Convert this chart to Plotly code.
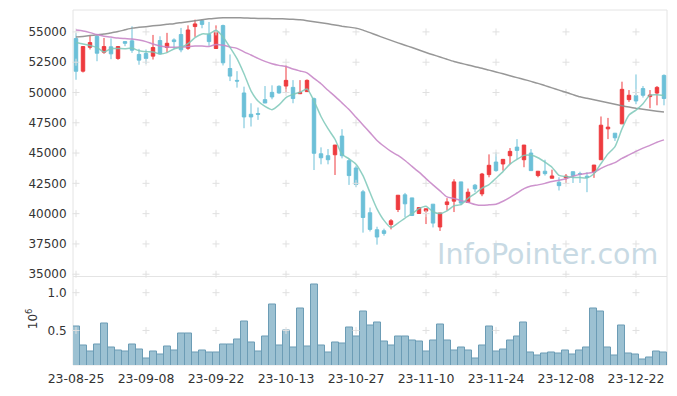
import pandas as pd
import plotly.graph_objects as go

# ---------------- data ----------------
holidays = ["2023-09-28", "2023-09-29", "2023-10-02", "2023-10-03", "2023-10-09", "2023-12-25"]
dates = [d for d in pd.bdate_range("2023-08-25", "2023-12-29") if d.strftime("%Y-%m-%d") not in holidays]
date_labels = [d.strftime("%y-%m-%d") for d in dates]

tick_labels = ["23-08-25", "23-09-08", "23-09-22", "23-10-13", "23-10-27",
               "23-11-10", "23-11-24", "23-12-08", "23-12-22"]

opens = [54450, 51760, 53730, 54640, 53320, 53770, 52810, 54200, 54260, 53140,
         53220, 53000, 54290, 53710, 54340, 54780, 53650, 55440, 55930, 54780,
         53630, 55520, 51980, 51000, 49960, 48200, 48260, 49410, 50010, 50510,
         50530, 50420, 49900, 50070, 49490, 44940, 44780, 44860, 46400, 44370,
         43770, 41800, 40070, 38670, 38590, 39110, 40340, 41550, 41300, 40010,
         40210, 40780, 38900, 40750, 41030, 42620, 40920, 42350, 41630, 43220,
         44260, 44100, 44780, 45490, 44450, 45000, 43140, 43500, 42920, 42590,
         42950, 43460, 43300, 43090, 43410, 44450, 47000, 46640, 47410, 49410,
         49740, 50320, 49660, 49950, 51410]
highs = [54900, 53800, 54700, 54750, 54500, 54470, 53800, 54210, 55460, 53600,
         53550, 54750, 54640, 54920, 54470, 55330, 55540, 56010, 56010, 55820,
         55540, 55600, 53140, 51760, 50480, 49110, 48760, 50530, 50590, 50590,
         52230, 51020, 51020, 51080, 49580, 45470, 45330, 45660, 46970, 44560,
         43960, 41960, 40500, 38920, 38760, 39550, 41520, 41710, 41300, 40500,
         40400, 40780, 40050, 41280, 42840, 42620, 42070, 42450, 43360, 44890,
         45060, 44510, 45410, 46150, 45660, 45330, 43500, 44450, 43630, 43000,
         43270, 43460, 43460, 43410, 44010, 48020, 47900, 46640, 50890, 50200,
         51490, 50530, 50200, 50530, 51490]
lows = [51050, 51650, 53550, 52580, 53190, 52750, 52700, 53820, 53270, 52290,
        52370, 52720, 53140, 53300, 53600, 53320, 53520, 54590, 55300, 53850,
        53600, 52230, 50940, 50400, 47050, 47190, 47740, 49130, 49440, 49900,
        49990, 49110, 49870, 50070, 43600, 44070, 44070, 43190, 44560, 42370,
        42180, 38430, 38530, 37440, 38180, 38700, 40130, 39720, 39800, 39980,
        39140, 38860, 38570, 40260, 40130, 40700, 40870, 41770, 41440, 43000,
        43460, 43550, 44070, 44510, 43830, 43550, 43000, 43140, 42920, 41910,
        42530, 42530, 42530, 41770, 42950, 44450, 46150, 46000, 47410, 49220,
        49030, 49580, 48700, 48940, 48940]
closes = [51750, 53790, 54120, 53240, 53790, 53190, 53790, 54060, 53490, 52670,
          52810, 53710, 53190, 54060, 54200, 53520, 55160, 55660, 55620, 54200,
          55000, 52450, 51350, 50940, 47980, 47980, 48200, 49130, 49630, 49960,
          51000, 49500, 50010, 51000, 44980, 44610, 44450, 45660, 44780, 43140,
          42400, 39680, 38700, 38070, 38370, 39410, 41520, 40810, 39850, 40500,
          40400, 39220, 40050, 40970, 42620, 40870, 41770, 42040, 43270, 43990,
          43550, 44480, 45140, 45220, 45660, 43550, 43500, 43300, 43110, 42310,
          43090, 43140, 43250, 42970, 44010, 47300, 47140, 46260, 50260, 49770,
          49300, 49770, 49790, 50420, 49500]

volume_millions = [0.553, 0.303, 0.224, 0.316, 0.592, 0.276, 0.237, 0.224, 0.316, 0.250,
                   0.132, 0.224, 0.184, 0.289, 0.237, 0.461, 0.461, 0.211, 0.237, 0.211,
                   0.211, 0.316, 0.316, 0.382, 0.618, 0.342, 0.224, 0.421, 0.842, 0.303,
                   0.500, 0.276, 0.789, 0.289, 1.105, 0.303, 0.211, 0.344, 0.329, 0.539,
                   0.421, 0.750, 0.566, 0.605, 0.355, 0.303, 0.421, 0.421, 0.368, 0.355,
                   0.224, 0.368, 0.579, 0.368, 0.237, 0.276, 0.237, 0.132, 0.303, 0.553,
                   0.224, 0.250, 0.368, 0.421, 0.605, 0.211, 0.171, 0.197, 0.211, 0.197,
                   0.237, 0.184, 0.237, 0.276, 0.789, 0.750, 0.276, 0.171, 0.566, 0.197,
                   0.184, 0.118, 0.145, 0.224, 0.211]

# moving-average values before the window is complete
ma5_head = [54100, 54010, 53870, 53710]
ma20_head = [55150, 55070, 54940, 54780, 54650, 54570, 54490, 54450, 54410, 54330,
             54200, 54000, 53830, 53750, 53730, 53750, 53790, 53830, 53830]
ma60 = [54573, 54630, 54696, 54762, 54819, 54918, 55025, 55172, 55312, 55378,
        55435, 55501, 55559, 55624, 55682, 55764, 55846, 55928, 56011, 56076,
        56134, 56159, 56175, 56167, 56150, 56134, 56109, 56101, 56093, 56085,
        56068, 56035, 55994, 55928, 55846, 55764, 55665, 55575, 55476, 55394,
        55312, 55148, 54942, 54721, 54507, 54301, 54096, 53899, 53710, 53504,
        53299, 53110, 52929, 52740, 52559, 52412, 52272, 52132, 52001, 51845,
        51697, 51541, 51384, 51228, 51080, 50916, 50752, 50563, 50382, 50193,
        50012, 49823, 49642, 49519, 49396, 49273, 49149, 49026, 48903, 48796,
        48697, 48615, 48533, 48459, 48393]

price_ticks = [35000, 37500, 40000, 42500, 45000, 47500, 50000, 52500, 55000]
volume_ticks = [0.5, 1.0]
volume_tick_labels = ["0.5", "1.0"]

# ---------------- derived ----------------
xi = list(range(len(dates)))
tick_idx = [date_labels.index(t) for t in tick_labels]
cs = pd.Series(closes, dtype=float)
ma5 = ma5_head + cs.rolling(5).mean().dropna().round(1).tolist()
ma20 = ma20_head + cs.rolling(20).mean().dropna().round(1).tolist()

RED = "#ee3b3f"
BLUE = "#6cc0d8"
FONT = "DejaVu Sans"

fig = go.Figure()

# grid crosses
gx_p = [x for _ in price_ticks for x in tick_idx]
gy_p = [y for y in price_ticks for _ in tick_idx]
gx_v = [x for _ in volume_ticks for x in tick_idx]
gy_v = [y for y in volume_ticks for _ in tick_idx]
cross = dict(symbol="cross-thin", size=5, line=dict(color="#e0e0e0", width=1))
fig.add_trace(go.Scatter(x=gx_p, y=gy_p, mode="markers", marker=cross, yaxis="y2",
                         hoverinfo="skip", showlegend=False, cliponaxis=False))
fig.add_trace(go.Scatter(x=gx_v, y=gy_v, mode="markers", marker=cross, yaxis="y",
                         hoverinfo="skip", showlegend=False, cliponaxis=False))

# volume
fig.add_trace(go.Bar(x=xi, y=volume_millions, yaxis="y",
                     marker=dict(color="#9cc1d2", line=dict(color="#6c9cb5", width=1)),
                     showlegend=False))

# candles
fig.add_trace(go.Candlestick(
    x=xi, open=opens, high=highs, low=lows, close=closes, yaxis="y2",
    increasing=dict(line=dict(color=RED, width=1), fillcolor=RED),
    decreasing=dict(line=dict(color=BLUE, width=1), fillcolor=BLUE),
    showlegend=False))

# moving averages
for vals, col in [(ma60, "rgba(140,140,140,0.9)"), (ma20, "rgba(200,135,200,0.9)"),
                  (ma5, "rgba(125,200,185,0.85)")]:
    fig.add_trace(go.Scatter(x=xi, y=vals, mode="lines", yaxis="y2",
                             line=dict(color=col, width=1.5, shape="spline", smoothing=0.6),
                             hoverinfo="skip", showlegend=False))

split = 89 / 357
fig.update_layout(
    width=677, height=396,
    margin=dict(l=73, r=10, t=10, b=29),
    paper_bgcolor="white", plot_bgcolor="white",
    font=dict(family=FONT, size=12, color="#333333"),
    bargap=0, boxgap=0.3,
    xaxis=dict(range=[-0.43, 84.43], tickmode="array", tickvals=tick_idx, ticktext=tick_labels,
               showgrid=False, zeroline=False, showline=False,
               ticks="outside", ticklen=2, tickcolor="rgba(0,0,0,0)",
               rangeslider=dict(visible=False), anchor="y",
               tickfont=dict(size=12.5)),
    yaxis=dict(domain=[0, split], range=[0.043, 1.214], tickmode="array",
               tickvals=volume_ticks, ticktext=volume_tick_labels,
               showgrid=False, zeroline=False, showline=False,
               ticks="outside", ticklen=3, tickcolor="rgba(0,0,0,0)"),
    yaxis2=dict(domain=[split, 1], range=[34811, 56808], tickmode="array",
                tickvals=price_ticks, ticktext=[str(v) for v in price_ticks],
                showgrid=False, zeroline=False, showline=False,
                ticks="outside", ticklen=3, tickcolor="rgba(0,0,0,0)", anchor="x"),
    shapes=[
        dict(type="rect", xref="paper", yref="paper", x0=0, x1=1, y0=0, y1=1,
             line=dict(color="#e4e4e4", width=1), layer="below"),
        dict(type="line", xref="paper", yref="paper", x0=0, x1=1, y0=split, y1=split,
             line=dict(color="#e4e4e4", width=1), layer="below"),
    ],
    annotations=[
        dict(text="InfoPointer.com", xref="paper", yref="paper",
             x=(660 - 73) / 594, y=(367 - 256) / 357, xanchor="right", yanchor="middle",
             showarrow=False, font=dict(family=FONT, size=28.5, color="#c8dae4")),
        dict(text="10<sup>6</sup>", xref="paper", yref="paper",
             x=(32 - 73) / 594, y=(367 - 321) / 357, xanchor="center", yanchor="middle",
             textangle=-90, showarrow=False, font=dict(family=FONT, size=12, color="#333333")),
    ],
)

fig.write_html("out.html", config={"displayModeBar": False},
               post_script="document.body.style.margin='0';")
